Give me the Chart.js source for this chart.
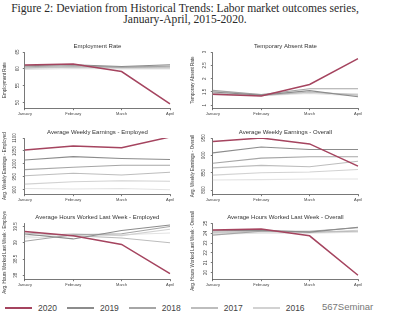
<!DOCTYPE html>
<html>
<head>
<meta charset="utf-8">
<script src="https://cdn.jsdelivr.net/npm/chart.js@4.4.1/dist/chart.umd.min.js"></script>
<style>
  body { margin: 0; background: #fff; width: 396px; height: 321px; position: relative; overflow: hidden; font-family: "Liberation Sans", Arial, sans-serif; }
  #title { position: absolute; left: 0; top: 3px; width: 370px; text-align: center; font-family: "Liberation Serif", "DejaVu Serif", serif; font-size: 11.6px; line-height: 11px; color: #2a2a2a; }
  .panel { position: absolute; width: 188px; height: 87px; }
  #legend { position: absolute; left: 5px; top: 303px; display: flex; align-items: center; font-size: 8.5px; color: #444; }
  #legend .sw { display: inline-block; width: 27px; height: 2px; margin-right: 6px; }
  #legend .lb { margin-right: 10px; }
  #mark { position: absolute; left: 322px; top: 301px; font-size: 9.5px; color: #777; }
</style>
</head>
<body>
<div id="title">Figure 2: Deviation from Historical Trends: Labor market outcomes series,<br>January-April, 2015-2020.</div>
<div id="legend"></div>
<div id="mark">567Seminar</div>
<script>
const months = ["January", "February", "March", "April"];
const years = ["2020", "2019", "2018", "2017", "2016", "2015"];
const legendYears = ["2020", "2019", "2018", "2017", "2016"];

// one row per year, 2020 first
const employmentRate = [
  [61.1, 61.4, 59.2, 49.6],
  [60.9, 61.2, 60.7, 61.2],
  [60.6, 60.9, 60.5, 60.8],
  [60.3, 60.6, 60.4, 60.5],
  [60.1, 60.5, 60.2, 60.2],
  [59.8, 60.1, 60.0, 60.0]
];
const employmentTicks = [50, 55, 60, 65];

const tempAbsentRate = [
  [1.41, 1.35, 1.78, 2.75],
  [1.50, 1.38, 1.55, 1.32],
  [1.56, 1.40, 1.62, 1.62],
  [1.45, 1.36, 1.50, 1.38],
  [1.52, 1.40, 1.47, 1.42],
  [1.40, 1.36, 1.44, 1.35]
];
const tempAbsentTicks = [1, 1.5, 2, 2.5, 3];

const earningsEmployed = [
  [1054, 1069, 1062, 1104],
  [1015, 1028, 1021, 1017],
  [978, 987, 995, 995],
  [954, 964, 957, 968],
  [922, 931, 935, 933],
  [905, 903, 905, 900]
];
const earningsEmployedTicks = [900, 950, 1000, 1050, 1100];

const earningsOverall = [
  [940, 950, 933, 869],
  [907, 924, 917, 917],
  [877, 892, 896, 896],
  [864, 871, 867, 883],
  [843, 850, 852, 859],
  [829, 830, 832, 832]
];
const earningsOverallTicks = [800, 850, 900, 950];

const hoursEmployed = [
  [39.35, 39.22, 38.95, 38.05],
  [39.27, 39.12, 39.38, 39.55],
  [39.05, 39.25, 39.28, 39.50],
  [39.30, 39.22, 39.15, 39.00],
  [39.20, 39.28, 39.22, 39.42],
  [39.15, 39.20, 39.25, 39.30]
];
const hoursEmployedTicks = [38, 38.5, 39, 39.5];

const hoursOverall = [
  [24.33, 24.43, 23.73, 19.73],
  [24.25, 24.30, 24.10, 24.60],
  [23.80, 24.20, 24.20, 24.55],
  [24.10, 24.20, 24.10, 24.20],
  [24.00, 24.15, 24.05, 24.30],
  [23.90, 24.00, 24.00, 24.10]
];
const hoursOverallTicks = [20, 21, 22, 23, 24, 25];

const colors = ["#a5445f", "#8c8c8c", "#a6a6a6", "#bdbdbd", "#d2d2d2", "#e3e3e3"];
const axisColor = "#555";
const sans = "Liberation Sans";

const panels = [
  { left: 0, top: 40, title: "Employment Rate", yTitle: "Employment Rate", data: employmentRate, ticks: employmentTicks, min: 48.3, max: 65 },
  { left: 188, top: 40, title: "Temporary Absent Rate", yTitle: "Temporary Absent Rate", data: tempAbsentRate, ticks: tempAbsentTicks, min: 0.89, max: 3 },
  { left: 0, top: 126, title: "Average Weekly Earnings - Employed", yTitle: "Avg. Weekly Earnings - Employed", data: earningsEmployed, ticks: earningsEmployedTicks, min: 883, max: 1100 },
  { left: 188, top: 126, title: "Average Weekly Earnings - Overall", yTitle: "Avg. Weekly Earnings - Overall", data: earningsOverall, ticks: earningsOverallTicks, min: 788, max: 950 },
  { left: 0, top: 211, title: "Average Hours Worked Last Week - Employed", yTitle: "Avg. Hours Worked Last Week - Employed", data: hoursEmployed, ticks: hoursEmployedTicks, min: 37.88, max: 39.61 },
  { left: 188, top: 211, title: "Average Hours Worked Last Week - Overall", yTitle: "Avg. Hours Worked Last Week - Overall", data: hoursOverall, ticks: hoursOverallTicks, min: 19.33, max: 25.03 }
];

// panel title centred over the plot region, Stata style
const panelTitle = {
  id: "panelTitle",
  afterDraw(chart, args, opts) {
    const { ctx, chartArea } = chart;
    ctx.save();
    ctx.font = "6px '" + sans + "'";
    ctx.fillStyle = "#333";
    ctx.textAlign = "center";
    ctx.textBaseline = "middle";
    ctx.fillText(opts.text, (chartArea.left + chartArea.right) / 2, 6);
    ctx.restore();
  }
};

panels.forEach((p) => {
  const div = document.createElement("div");
  div.className = "panel";
  div.style.left = p.left + "px";
  div.style.top = p.top + "px";
  const canvas = document.createElement("canvas");
  canvas.width = 188;
  canvas.height = 87;
  div.appendChild(canvas);
  document.body.appendChild(div);

  new Chart(canvas, {
    type: "line",
    data: {
      labels: months,
      datasets: years.map((y, i) => ({
        label: y,
        data: p.data[i],
        borderColor: colors[i],
        borderWidth: i === 0 ? 1.5 : 1.1,
        pointRadius: 0,
        tension: 0,
        fill: false
      }))
    },
    options: {
      responsive: false,
      animation: false,
      events: [],
      layout: { padding: { left: 1, right: 18, top: 12, bottom: 10 } },
      plugins: {
        legend: { display: false },
        tooltip: { enabled: false },
        panelTitle: { text: p.title }
      },
      scales: {
        x: {
          offset: false,
          grid: { drawOnChartArea: false, tickLength: 2, color: axisColor, lineWidth: 0.8 },
          border: { color: axisColor, width: 0.8 },
          ticks: { font: { size: 4, family: sans }, color: "#444", padding: 1, maxRotation: 0, autoSkip: false }
        },
        y: {
          min: p.min,
          max: p.max,
          afterBuildTicks: (s) => { s.ticks = p.ticks.map((v) => ({ value: v })); },
          grid: { drawOnChartArea: false, tickLength: 2, color: axisColor, lineWidth: 0.8 },
          border: { color: axisColor, width: 0.8 },
          ticks: {
            font: { size: 4.5, family: sans }, color: "#444", padding: 3,
            minRotation: 90, maxRotation: 90, crossAlign: "center",
            callback: (v) => String(v)
          },
          title: { display: true, text: p.yTitle, font: { size: 4.5, family: sans }, color: "#333", padding: { top: 1, bottom: 4 } }
        }
      }
    },
    plugins: [panelTitle]
  });
});

const legend = document.getElementById("legend");
legendYears.forEach((y, i) => {
  const sw = document.createElement("span");
  sw.className = "sw";
  sw.style.background = colors[i];
  const lb = document.createElement("span");
  lb.className = "lb";
  lb.textContent = y;
  legend.appendChild(sw);
  legend.appendChild(lb);
});
</script>
</body>
</html>
